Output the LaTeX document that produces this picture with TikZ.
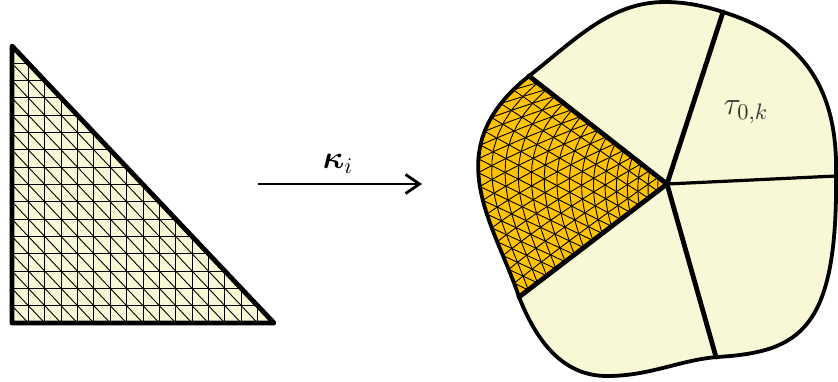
\documentclass[tikz,border=0pt]{standalone}
\usepackage{amsmath,amssymb}
\usepackage{bm}
\usepackage{xcolor}
\usetikzlibrary{calc,arrows.meta,positioning}
\definecolor{patchYellow}{RGB}{248,248,214}
\definecolor{patchGold}{RGB}{255,195,0}
\definecolor{labelGray}{RGB}{50,50,50}
\tikzset{
  meshline/.style={black, line width=0.45pt},
  thickedge/.style={black, line width=2.4pt, line cap=round, line join=round},
  outeredge/.style={black, line width=1.9pt, line join=round}
}
\newcommand{\patchoutline}{(529,76) .. controls (575,40) and (610,2) .. (665,2)
  .. controls (685,2) and (705,6) .. (723,12)
  .. controls (790,33) and (838,75) .. (836,173)
  .. controls (838,330) and (800,352) .. (717,357)
  .. controls (680,360) and (650,376) .. (607,376)
  .. controls (565,376) and (538,345) .. (519,297)
  -- plot[domain=1:0, samples=33] ({mapx(1-\x,\x)},{mapy(1-\x,\x)}) -- cycle}
\begin{document}
\begin{tikzpicture}[x=0.5pt,y=-0.5pt,
  declare function={
    mapx(\s,\t)=667+\s*(529-667)+\t*(519-667)+\s*\t*(-270+187*\t);
    mapy(\s,\t)=184+\s*(76-184)+\t*(297-184);
  }]
\useasboundingbox (0,0) rectangle (838,381);

% reference triangle
\coordinate (ra) at (12,46);
\coordinate (rb) at (12,323);
\coordinate (rc) at (274,323);
\fill[patchYellow] (ra)--(rb)--(rc)--cycle;
\foreach \i in {1,...,15}{
  \draw[meshline] (12+\i*16.375,323)--(12+\i*16.375,323-277+\i*17.3125);
  \draw[meshline] (12,323-\i*17.3125)--(274-\i*16.375,323-\i*17.3125);
  \draw[meshline] (12,323-\i*17.3125)--(12+\i*16.375,323);
}
\draw[thickedge] (ra)--(rb)--(rc)--cycle;

% map
\coordinate (arrowstart) at (258,184);
\coordinate (arrowend) at (422,184);
\draw[black, line width=1.4pt, -{Straight Barb[length=7pt,width=9.5pt]}] (arrowstart)--(arrowend);
\node[font=\Large, scale=1.12] (maplabel) at (338,164) {$\bm{\kappa}_i$};

% physical element
\coordinate (center) at (667,184);
\coordinate (va) at (529,76);
\coordinate (vb) at (519,297);
\coordinate (vd) at (723,12);
\coordinate (ve) at (836,176);
\coordinate (vf) at (716,357);
\fill[patchYellow] \patchoutline;

\fill[patchGold] (center)--(va)--plot[domain=0:1, samples=33] ({mapx(1-\x,\x)},{mapy(1-\x,\x)})--cycle;
\foreach \n in {1,...,15}{
  \pgfmathsetmacro{\lev}{\n/16}
  \draw[meshline] plot[domain=0:1-\lev, samples=17] ({mapx(\lev,\x)},{mapy(\lev,\x)});
  \draw[meshline] plot[domain=0:1-\lev, samples=17] ({mapx(\x,\lev)},{mapy(\x,\lev)});
  \draw[meshline] plot[domain=0:\lev, samples=17] ({mapx(\x,\lev-\x)},{mapy(\x,\lev-\x)});
}

\draw[outeredge] \patchoutline;
\draw[thickedge] (center)--(va);
\draw[thickedge] (center)--(vb);
\draw[thickedge] (center)--(vd);
\draw[thickedge] (center)--(vf);
\draw[black, line width=1.6pt] (center)--(ve);
\node[text=labelGray, font=\Large, scale=1.12] (patchlabel) at (746,112) {$\tau_{0,k}$};
\end{tikzpicture}
\end{document}
